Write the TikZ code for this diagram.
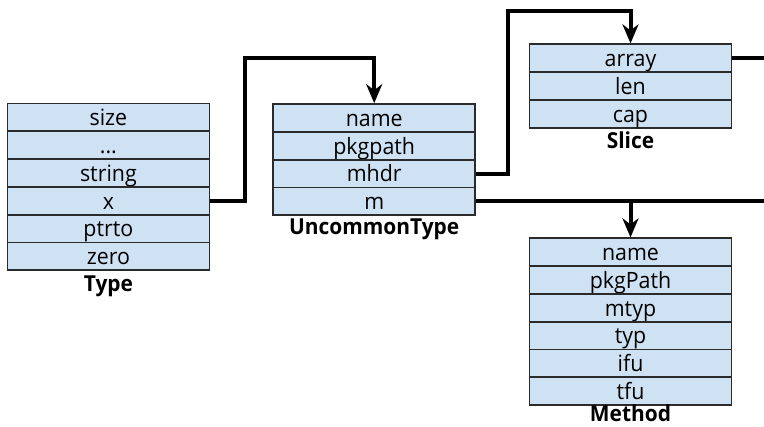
\documentclass[tikz,border=0pt]{standalone}
\usepackage{fontspec}
\setmainfont{Open Sans}
\newfontfamily\boxfont[FakeStretch=0.95]{Open Sans}
\usetikzlibrary{arrows.meta}
\definecolor{rowblue}{HTML}{CFE2F3}
\definecolor{rowline}{HTML}{2B2B2B}
\begin{document}
\begin{tikzpicture}[x=1pt, y=-1pt,
    row/.style={rectangle, draw=rowline, line width=1.8pt, fill=rowblue, minimum width=202pt, minimum height=27.8pt, inner sep=0pt, text height=22.3pt, text depth=5.5pt, font=\boxfont\fontsize{22.5}{26}\selectfont},
    title/.style={font=\boxfont\fontsize{22}{26}\selectfont\bfseries, inner sep=0pt, anchor=base},
    wire/.style={line width=4pt, line join=miter},
    arr/.style={wire, -{Stealth[length=19pt, width=16pt, inset=6pt]}}]
    \useasboundingbox (0,0) rectangle (764,427);

    % Type
    \node[row] at (108.4, 117.4)  (tsize)    {size};
    \node[row] at (108.4, 145.2)  (tdots)    {...};
    \node[row] at (108.4, 173.0)  (tstring)  {string};
    \node[row] at (108.4, 200.8)  (tx)       {x};
    \node[row] at (108.4, 228.6)  (tptrto)   {ptrto};
    \node[row] at (108.4, 256.4)  (tzero)    {zero};
    \node[title] at (108.4, 291.5) (ttitle)  {Type};

    % UncommonType
    \node[row] at (374.2, 118.0)  (uname)    {name};
    \node[row] at (374.2, 145.8)  (upkgpath) {pkgpath};
    \node[row] at (374.2, 173.6)  (umhdr)    {mhdr};
    \node[row] at (374.2, 201.4)  (um)       {m};
    \node[title] at (374.2, 235)  (utitle)   {UncommonType};

    % Slice
    \node[row] at (630.5, 58.2)   (sarray)   {array};
    \node[row] at (630.5, 86.0)   (slen)     {len};
    \node[row] at (630.5, 113.8)  (scap)     {cap};
    \node[title] at (630.5, 149)  (stitle)   {Slice};

    % Method
    \node[row] at (630.5, 252.2)  (mname)    {name};
    \node[row] at (630.5, 280.0)  (mpkgpath) {pkgPath};
    \node[row] at (630.5, 307.8)  (mmtyp)    {mtyp};
    \node[row] at (630.5, 335.6)  (mtyp)     {typ};
    \node[row] at (630.5, 363.4)  (mifu)     {ifu};
    \node[row] at (630.5, 391.2)  (mtfu)     {tfu};
    \node[title] at (630.5, 422)  (mtitle)   {Method};

    % bends and loose ends
    \coordinate (xbend)    at (245, 58);
    \coordinate (mhdrbend) at (508, 11);
    \coordinate (rimedge)  at (766, 0);

    \draw[arr]  (tx.east) -| (xbend) -| (uname.north);
    \draw[arr]  (umhdr.east) -| (mhdrbend) -| (sarray.north);
    \draw[wire] (sarray.east) -- (sarray.east -| rimedge);
    \draw[wire] (um.east) -- (um.east -| rimedge);
    \draw[arr]  (um.east -| mname.north) -- (mname.north);
\end{tikzpicture}
\end{document}
